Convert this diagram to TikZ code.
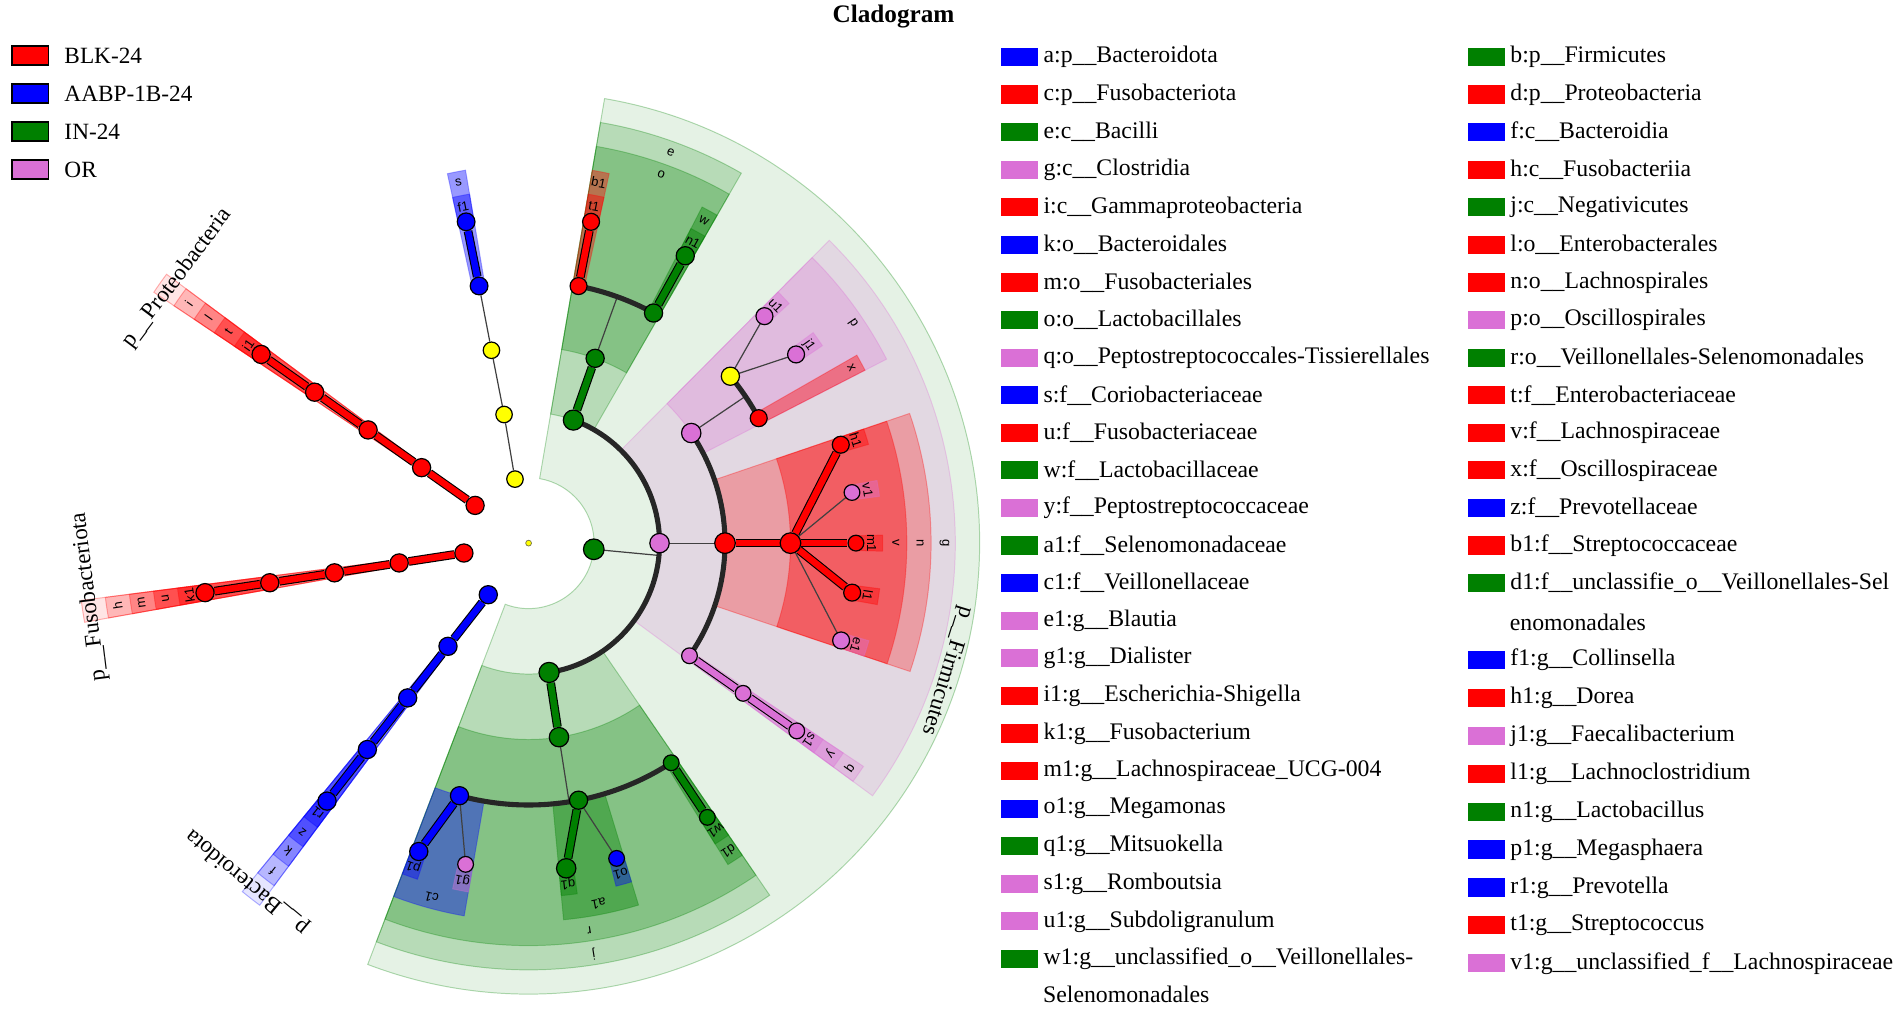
\documentclass[tikz,border=0pt]{standalone}
\usepackage{fontspec}
\setmainfont{Liberation Serif}
\newfontfamily\lblfont{Liberation Sans}
\usetikzlibrary{positioning}
\pgfdeclarelayer{bg}
\pgfdeclarelayer{lines}
\pgfsetlayers{bg,lines,main}

\definecolor{cBLK}{HTML}{FF0000}
\definecolor{cAABP}{HTML}{0000FF}
\definecolor{cIN}{HTML}{008000}
\definecolor{cOR}{HTML}{DA70D6}
\definecolor{cNS}{HTML}{FFFF00}

% shaded clade: colour, opacity, from angle, to angle, inner r, outer r
\newcommand{\cladesec}[6]{%
  \pgfmathsetmacro{\csA}{#3}\pgfmathsetmacro{\csB}{#4}%
  \filldraw[fill=#1, draw=#1, fill opacity=#2, draw opacity=0.3, line width=0.4pt]
    (\csA:#5) arc[start angle=\csA, end angle=\csB, radius=#5]
    -- (\csB:#6) arc[start angle=\csB, end angle=\csA, radius=#6] -- cycle;}
% one lineage from phylum to genus
\newcommand{\armstrips}[2]{%
  \cladesec{#1}{0.10}{#2-1.4}{#2+1.4}{54}{372}
  \cladesec{#1}{0.20}{#2-1.4}{#2+1.4}{108}{352}
  \cladesec{#1}{0.27}{#2-1.4}{#2+1.4}{162}{332}
  \cladesec{#1}{0.40}{#2-1.4}{#2+1.4}{216}{312}
  \cladesec{#1}{0.40}{#2-1.4}{#2+1.4}{270}{292}}
% letter in a band: name, angle, radius, text
\newcommand{\bandlab}[4]{%
  \pgfmathsetmacro{\lrot}{#2-90}%
  \node[lbl, rotate=\lrot] (#1) at (#2:#3) {#4};}

\begin{document}
\begin{tikzpicture}[x=0.5pt, y=0.5pt,
  tn/.style 2 args={circle, draw=black, line width=0.5pt, inner sep=0pt, fill=#1, minimum size=#2},
  chn/.style={draw=black, line width=0.45pt, double=#1, double distance=2.7pt},
  thn/.style={draw=black!75, line width=0.5pt},
  bra/.style={draw=black!85, line width=2.1pt},
  lbl/.style={font=\lblfont\fontsize{5.4}{6}\selectfont, inner sep=0.3pt},
  phy/.style={font=\fontsize{9.5}{11}\selectfont, inner sep=0pt},
  legtxt/.style={font=\fontsize{9.8}{11}\selectfont, inner sep=1pt},
  grpbox/.style={draw=black, line width=0.8pt, minimum width=15pt, minimum height=8pt, inner sep=0pt},
  swatch/.style={minimum width=15pt, minimum height=7.5pt, inner sep=0pt}]
\useasboundingbox (0,0) rectangle (1568,845);

\node[font=\bfseries\fontsize{10.4}{12}\selectfont] (title) at (737,831) {Cladogram};

% groups
\foreach \cl/\txt [count=\i from 0] in {cBLK/BLK-24, cAABP/AABP-1B-24, cIN/IN-24, cOR/OR}{
  \node[grpbox, fill=\cl] (grp\i) at (25,799-31.3*\i) {};
  \node[legtxt, font=\fontsize{9.6}{11}\selectfont, right=5pt of grp\i] (grptxt\i) {\txt};
}

% taxa legend, first column
\foreach \cl/\txt [count=\k from 0] in {
  cAABP/a:p\_\_Bacteroidota, cBLK/c:p\_\_Fusobacteriota, cIN/e:c\_\_Bacilli,
  cOR/g:c\_\_Clostridia, cBLK/i:c\_\_Gammaproteobacteria, cAABP/k:o\_\_Bacteroidales,
  cBLK/m:o\_\_Fusobacteriales, cIN/o:o\_\_Lactobacillales,
  cOR/q:o\_\_Peptostreptococcales-Tissierellales, cAABP/s:f\_\_Coriobacteriaceae,
  cBLK/u:f\_\_Fusobacteriaceae, cIN/w:f\_\_Lactobacillaceae, cOR/y:f\_\_Peptostreptococcaceae,
  cIN/a1:f\_\_Selenomonadaceae, cAABP/c1:f\_\_Veillonellaceae, cOR/e1:g\_\_Blautia,
  cOR/g1:g\_\_Dialister, cBLK/i1:g\_\_Escherichia-Shigella, cBLK/k1:g\_\_Fusobacterium,
  cBLK/m1:g\_\_Lachnospiraceae\_UCG-004, cAABP/o1:g\_\_Megamonas, cIN/q1:g\_\_Mitsuokella,
  cOR/s1:g\_\_Romboutsia, cOR/u1:g\_\_Subdoligranulum,
  cIN/w1:g\_\_unclassified\_o\_\_Veillonellales-}{
  \node[swatch, fill=\cl] (sa\k) at (841,798-31*\k) {};
  \node[legtxt, right=1pt of sa\k] (ta\k) {\txt};
}
\node[legtxt, anchor=west] (ta-wrap) at (858,25) {Selenomonadales};

% taxa legend, second column
\foreach \cl/\txt [count=\k from 0] in {
  cIN/b:p\_\_Firmicutes, cBLK/d:p\_\_Proteobacteria, cAABP/f:c\_\_Bacteroidia,
  cBLK/h:c\_\_Fusobacteriia, cIN/j:c\_\_Negativicutes, cBLK/l:o\_\_Enterobacterales,
  cBLK/n:o\_\_Lachnospirales, cOR/p:o\_\_Oscillospirales,
  cIN/r:o\_\_Veillonellales-Selenomonadales, cBLK/t:f\_\_Enterobacteriaceae,
  cBLK/v:f\_\_Lachnospiraceae, cBLK/x:f\_\_Oscillospiraceae, cAABP/z:f\_\_Prevotellaceae,
  cBLK/b1:f\_\_Streptococcaceae, cIN/d1:f\_\_unclassifie\_o\_\_Veillonellales-Sel}{
  \node[swatch, fill=\cl] (sb\k) at (1226,798-31*\k) {};
  \node[legtxt, right=1pt of sb\k] (tb\k) {\txt};
}
\node[legtxt, anchor=west] (tb-wrap) at (1243,332) {enomonadales};
\foreach \cl/\txt [count=\k from 0] in {
  cAABP/f1:g\_\_Collinsella, cBLK/h1:g\_\_Dorea, cOR/j1:g\_\_Faecalibacterium,
  cBLK/l1:g\_\_Lachnoclostridium, cIN/n1:g\_\_Lactobacillus, cAABP/p1:g\_\_Megasphaera,
  cAABP/r1:g\_\_Prevotella, cBLK/t1:g\_\_Streptococcus,
  cOR/v1:g\_\_unclassified\_f\_\_Lachnospiraceae}{
  \node[swatch, fill=\cl] (sc\k) at (1226,300.5-31.25*\k) {};
  \node[legtxt, right=1pt of sc\k] (tc\k) {\txt};
}

% the cladogram
\begin{scope}[shift={(436,397)}]
\begin{pgfonlayer}{bg}
% Firmicutes
\cladesec{cIN}{0.10}{-110.9}{80.3}{54}{372}
\cladesec{cIN}{0.20}{60.1}{80.3}{108}{352}
\cladesec{cOR}{0.20}{-36.3}{45.2}{108}{352}
\cladesec{cIN}{0.20}{-110.9}{-55.6}{108}{352}
\cladesec{cIN}{0.27}{60.1}{80.3}{162}{332}
\cladesec{cOR}{0.27}{27.2}{45.2}{162}{332}
\cladesec{cBLK}{0.27}{-18.6}{18.8}{162}{332}
\cladesec{cOR}{0.27}{-36.3}{-33.7}{162}{332}
\cladesec{cIN}{0.27}{-110.9}{-55.6}{162}{332}
\cladesec{cBLK}{0.40}{77.7}{80.3}{216}{312}
\cladesec{cIN}{0.40}{60.1}{62.7}{216}{312}
\cladesec{cBLK}{0.40}{27.2}{29.8}{216}{312}
\cladesec{cBLK}{0.40}{-18.6}{18.8}{216}{312}
\cladesec{cOR}{0.40}{-36.3}{-33.7}{216}{312}
\cladesec{cIN}{0.40}{-58.2}{-55.6}{216}{312}
\cladesec{cIN}{0.40}{-84.7}{-73.1}{216}{312}
\cladesec{cAABP}{0.40}{-110.9}{-99.8}{216}{312}
\foreach \cl/\a in {cBLK/79, cIN/61.4, cOR/43.9, cOR/35.2, cBLK/17.5, cOR/8.9, cBLK/0,
  cBLK/-8.7, cOR/-17.3, cOR/-35, cIN/-56.9, cAABP/-74.4, cIN/-83.4, cOR/-101.1, cAABP/-109.6}
  {\cladesec{\cl}{0.40}{\a-1.3}{\a+1.3}{270}{292}}
% other phyla
\armstrips{cBLK}{144.8}
\armstrips{cBLK}{188.7}
\armstrips{cAABP}{232}
\cladesec{cAABP}{0.40}{99.6}{102.4}{216}{312}
\cladesec{cAABP}{0.40}{99.6}{102.4}{270}{292}
\end{pgfonlayer}

\node[circle, draw=black!60!yellow, fill=cNS, inner sep=0pt, minimum size=2.4pt, line width=0.3pt] (root) at (0,0) {};

% Firmicutes nodes
\node[tn={cIN}{8.5pt}] (n-b) at (-5.4:54) {};
\node[tn={cIN}{8.3pt}] (n-e) at (70:108) {};
\node[tn={cOR}{8pt}] (n-g) at (0:108) {};
\node[tn={cIN}{8.3pt}] (n-j) at (-81:108) {};
\node[tn={cIN}{7.5pt}] (n-o) at (70.2:162) {};
\node[tn={cOR}{8pt}] (n-p) at (34.1:162) {};
\node[tn={cBLK}{8.5pt}] (n-n) at (0:162) {};
\node[tn={cOR}{6.5pt}] (n-q) at (-35:162) {};
\node[tn={cIN}{8pt}] (n-r) at (-81.1:162) {};
\node[tn={cBLK}{7pt}] (n-b1) at (79:216) {};
\node[tn={cIN}{7.5pt}] (n-w) at (61.5:216) {};
\node[tn={cNS}{7.5pt}] (n-pf) at (39.6:216) {};
\node[tn={cBLK}{7pt}] (n-x) at (28.5:216) {};
\node[tn={cBLK}{8.5pt}] (n-v) at (0:216) {};
\node[tn={cOR}{6.5pt}] (n-y) at (-35:216) {};
\node[tn={cIN}{6.5pt}] (n-d1) at (-57:216) {};
\node[tn={cIN}{7.5pt}] (n-a1) at (-79:216) {};
\node[tn={cAABP}{7.5pt}] (n-c1) at (-105.3:216) {};
\node[tn={cBLK}{7pt}] (n-t1) at (79:270) {};
\node[tn={cIN}{7.5pt}] (n-n1) at (61.4:270) {};
\node[tn={cOR}{7pt}] (n-u1) at (43.9:270) {};
\node[tn={cOR}{7pt}] (n-j1) at (35.2:270) {};
\node[tn={cBLK}{7pt}] (n-h1) at (17.5:270) {};
\node[tn={cOR}{6.5pt}] (n-v1) at (8.9:270) {};
\node[tn={cBLK}{6.5pt}] (n-m1) at (0:270) {};
\node[tn={cBLK}{7pt}] (n-l1) at (-8.7:270) {};
\node[tn={cOR}{7pt}] (n-e1) at (-17.3:270) {};
\node[tn={cOR}{6.5pt}] (n-s1) at (-35:270) {};
\node[tn={cIN}{6.5pt}] (n-w1) at (-56.9:270) {};
\node[tn={cAABP}{6.5pt}] (n-o1) at (-74.4:270) {};
\node[tn={cIN}{8pt}] (n-q1) at (-83.4:270) {};
\node[tn={cOR}{6.5pt}] (n-g1) at (-101.1:270) {};
\node[tn={cAABP}{7.5pt}] (n-p1) at (-109.6:270) {};

% other phyla nodes
\foreach \lv/\r in {1/54, 2/108, 3/162, 4/216, 5/270}{
  \node[tn={cBLK}{7.5pt}] (pr\lv) at (144.8:\r) {};
  \node[tn={cBLK}{7.5pt}] (fu\lv) at (188.7:\r) {};
  \node[tn={cAABP}{7.5pt}] (bd\lv) at (232:\r) {};
}
\node[tn={cNS}{6.8pt}] (ac1) at (102:54) {};
\node[tn={cNS}{6.8pt}] (ac2) at (100.8:108) {};
\node[tn={cNS}{6.8pt}] (ac3) at (100.9:162) {};
\node[tn={cAABP}{7.3pt}] (ac4) at (100.9:216) {};
\node[tn={cAABP}{7.3pt}] (ac5) at (101:270) {};

\begin{pgfonlayer}{lines}
\coordinate (k-b) at (-5.4:108);
\coordinate (k-o) at (70.2:216);
\coordinate (k-p) at (34.1:216);
\coordinate (k-r) at (-81.1:216);
\draw[thn] (n-b.center) -- (k-b);
\draw[bra] (n-j.center) arc[start angle=-81, end angle=70, radius=108];
\draw[thn] (n-g.center) -- (n-n.center);
\draw[bra] (n-q.center) arc[start angle=-35, end angle=34.1, radius=162];
\draw[chn=cIN] (n-e) -- (n-o);
\draw[thn] (n-o.center) -- (k-o);
\draw[bra] (n-w.center) arc[start angle=61.5, end angle=79, radius=216];
\draw[chn=cBLK] (n-b1) -- (n-t1);
\draw[chn=cIN] (n-w) -- (n-n1);
\draw[thn] (n-p.center) -- (k-p);
\draw[bra] (n-x.center) arc[start angle=28.5, end angle=39.6, radius=216];
\draw[thn] (n-pf.center) -- (n-u1.center);
\draw[thn] (n-pf.center) -- (n-j1.center);
\draw[chn=cBLK] (n-n) -- (n-v);
\draw[chn=cBLK] (n-v) -- (n-h1);
\draw[chn=cBLK] (n-v) -- (n-m1);
\draw[chn=cBLK] (n-v) -- (n-l1);
\draw[thn] (n-v.center) -- (n-v1.center);
\draw[thn] (n-v.center) -- (n-e1.center);
\draw[chn=cOR] (n-q) -- (n-y) -- (n-s1);
\draw[chn=cIN] (n-j) -- (n-r);
\draw[thn] (n-r.center) -- (k-r);
\draw[bra] (n-c1.center) arc[start angle=-105.3, end angle=-57, radius=216];
\draw[chn=cAABP] (n-c1) -- (n-p1);
\draw[thn] (n-c1.center) -- (n-g1.center);
\draw[chn=cIN] (n-a1) -- (n-q1);
\draw[thn] (n-a1.center) -- (n-o1.center);
\draw[chn=cIN] (n-d1) -- (n-w1);
\draw[chn=cBLK] (pr1) -- (pr2) -- (pr3) -- (pr4) -- (pr5);
\draw[chn=cBLK] (fu1) -- (fu2) -- (fu3) -- (fu4) -- (fu5);
\draw[chn=cAABP] (bd1) -- (bd2) -- (bd3) -- (bd4) -- (bd5);
\draw[thn] (ac1) -- (ac2) -- (ac3) -- (ac4);
\draw[chn=cAABP] (ac4) -- (ac5);
\end{pgfonlayer}

% band letters
\foreach \nm/\a in {t1/79, n1/61.4, u1/43.9, j1/35.2, h1/17.5, v1/8.9, m1/0, l1/-8.7,
  e1/-17.3, s1/-35, w1/-56.9, o1/-74.4, q1/-83.4, g1/-101.1, p1/-109.6}
  {\bandlab{L-\nm}{\a}{283}{\nm}}
\foreach \nm/\a in {b1/79, w/61.5, x/28.5, v/0, y/-35, d1/-57, a1/-79, c1/-105.3}
  {\bandlab{L-\nm}{\a}{303}{\nm}}
\foreach \nm/\a in {o/70.2, p/34.1, n/0, q/-35, r/-81.1}
  {\bandlab{L-\nm}{\a}{323}{\nm}}
\foreach \nm/\a in {e/70, g/0, j/-81}
  {\bandlab{L-\nm}{\a}{343}{\nm}}
\foreach \nm/\rr in {i1/283, t/303, l/323, i/343}{\bandlab{L-\nm}{144.8}{\rr}{\nm}}
\foreach \nm/\rr in {k1/283, u/303, m/323, h/343}{\bandlab{L-\nm}{188.7}{\rr}{\nm}}
\foreach \nm/\rr in {r1/283, z/303, k/323, f/343}{\bandlab{L-\nm}{232}{\rr}{\nm}}
\bandlab{L-f1}{101}{283}{f1}
\bandlab{L-s}{101}{303}{s}

\node[phy, rotate=-107] (L-b) at (-17:361) {p\_\_Firmicutes};
\node[phy, rotate=53] (L-d) at (143:363) {p\_\_Proteobacteria};
\node[phy, rotate=97] (L-c) at (187:365) {p\_\_Fusobacteriota};
\node[phy, rotate=140.3] (L-a) at (230.3:363) {p\_\_Bacteroidota};
\end{scope}
\end{tikzpicture}
\end{document}
